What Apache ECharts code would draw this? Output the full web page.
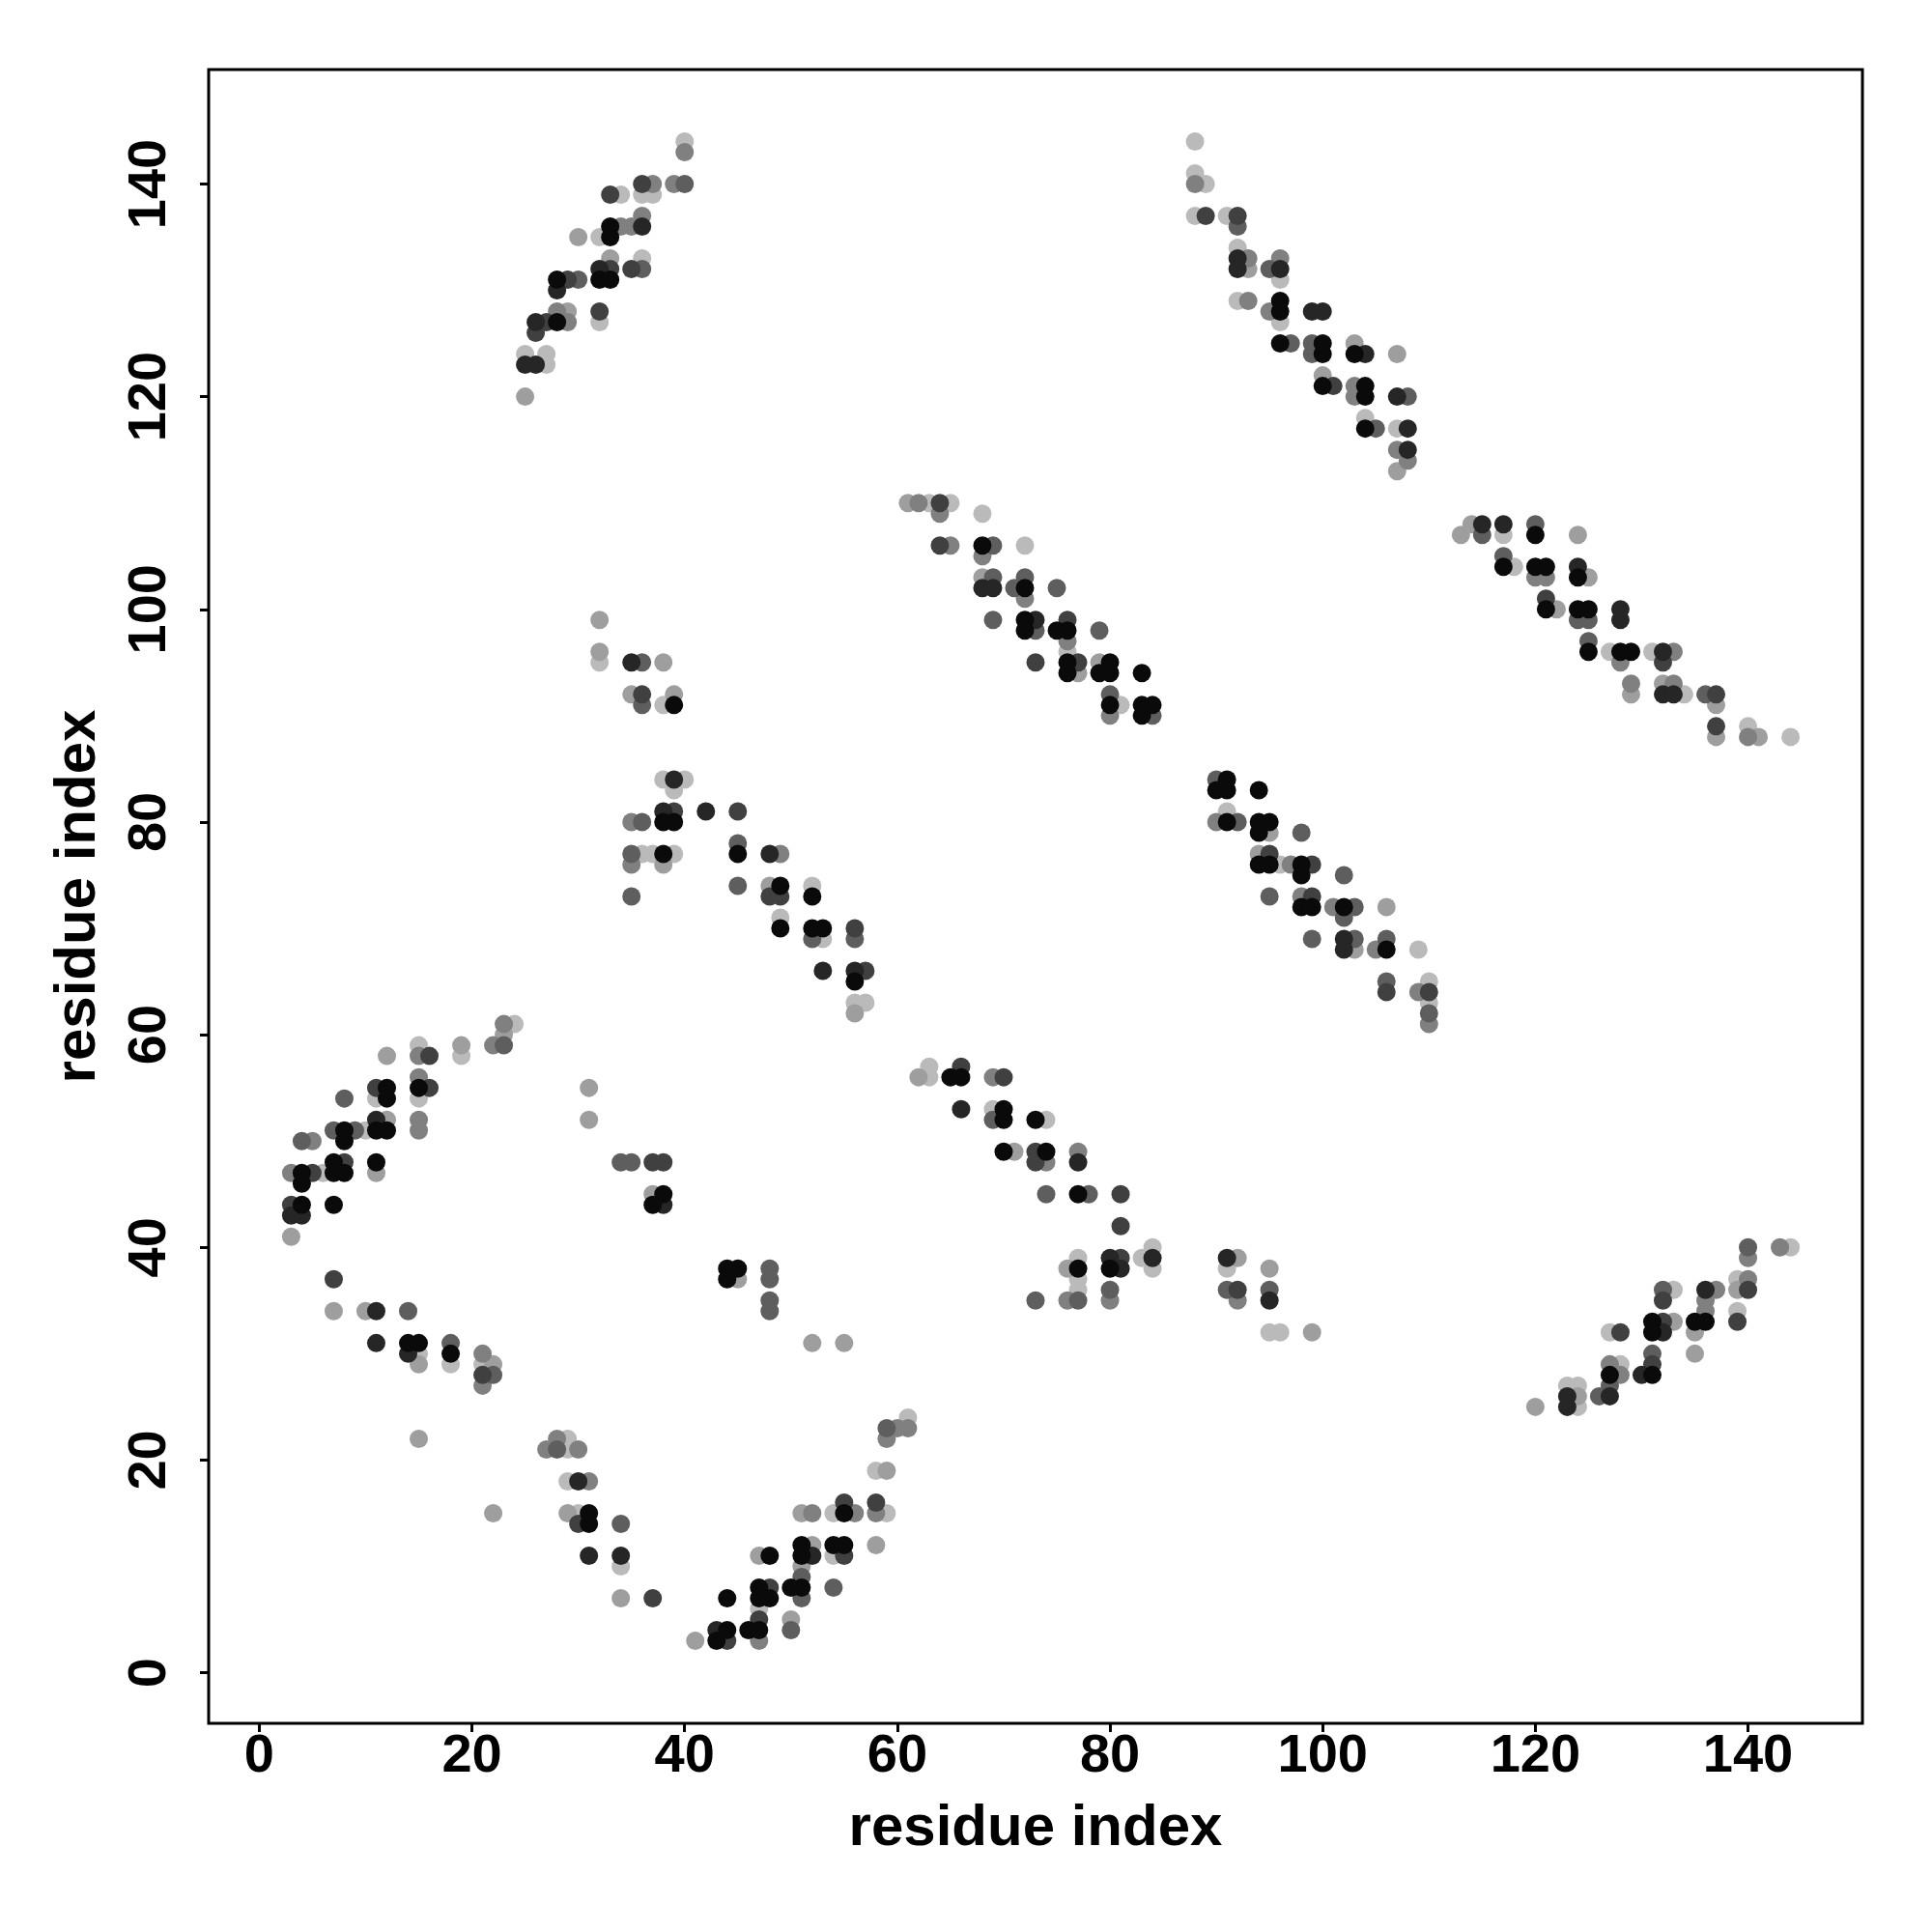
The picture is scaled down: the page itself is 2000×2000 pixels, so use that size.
<!DOCTYPE html>
<html>
<head>
<meta charset="utf-8">
<script src="https://cdn.jsdelivr.net/npm/echarts@6/dist/echarts.min.js"></script>
<style>html,body{margin:0;padding:0;background:#fff}#c{width:2000px;height:2000px}</style>
</head>
<body>
<div id="c"></div>
<script>
const xTicks = [0, 20, 40, 60, 80, 100, 120, 140];
const yTicks = [0, 20, 40, 60, 80, 100, 120, 140];
const axisTitle = 'residue index';

const shade0 = [[33,136],[33,135],[32,131],[33,131],[28,131],[28,127],[96,129],[96,128],[96,125],[100,125],[100,124],[100,121],[68,106],[72,102],[72,99],[72,98],[75,98],[76,98],[76,95],[76,94],[80,95],[79,94],[80,94],[83,94],[80,91],[83,91],[84,91],[83,90],[91,84],[90,83],[91,83],[94,83],[91,80],[94,80],[95,80],[94,79],[94,76],[95,76],[98,76],[98,75],[98,72],[99,72],[49,74],[52,73],[49,70],[52,70],[53,70],[56,65],[65,56],[66,56],[70,53],[70,52],[73,52],[70,49],[74,49],[77,45],[77,38],[80,38],[55,15],[51,12],[51,11],[51,8],[50,8],[54,12],[55,12],[48,11],[48,7],[4,44],[7,44],[14,31],[15,31],[18,30],[31,15],[31,14],[44,7],[44,4],[43,3],[46,4],[47,4],[47,8],[47,7],[38,45],[37,44],[44,38],[45,38],[44,37],[39,91],[38,80],[39,80],[38,77],[45,77],[15,55],[12,55],[12,54],[11,51],[12,51],[8,51],[8,50],[7,48],[7,47],[8,47],[11,48],[4,47],[4,46],[103,124],[104,121],[104,120],[104,117],[120,107],[117,104],[120,104],[121,104],[124,103],[121,100],[124,100],[125,100],[125,96],[128,96],[129,96],[102,72],[106,68],[135,33],[136,33],[131,33],[131,32],[131,28],[127,28]];
const shade1 = [[36,136],[32,132],[28,130],[26,127],[26,123],[25,123],[92,133],[92,132],[96,132],[99,128],[100,128],[68,102],[69,102],[73,99],[66,53],[77,48],[53,66],[56,66],[48,77],[80,39],[81,38],[84,39],[91,39],[95,35],[52,11],[3,43],[4,43],[11,34],[11,31],[14,30],[30,18],[31,11],[34,11],[43,4],[38,44],[35,95],[39,84],[38,81],[42,81],[11,52],[104,124],[107,120],[108,117],[108,115],[115,108],[117,108],[124,104],[128,100],[128,99],[132,96],[132,92],[133,92],[102,69],[102,68],[136,36],[132,32],[130,28],[127,26],[123,26],[123,25]];
const shade2 = [[36,140],[33,139],[35,132],[33,132],[29,131],[32,128],[27,127],[26,126],[89,137],[92,137],[101,121],[64,110],[64,106],[76,99],[77,95],[73,95],[95,77],[99,76],[99,73],[49,73],[48,73],[56,70],[57,66],[66,57],[70,56],[73,49],[73,48],[81,45],[81,42],[81,39],[92,36],[55,16],[58,16],[55,11],[48,8],[3,44],[7,37],[21,28],[30,14],[37,7],[44,3],[47,5],[36,92],[39,81],[45,81],[16,58],[16,55],[11,55],[8,48],[5,47],[37,48],[38,48],[121,101],[132,95],[137,92],[137,89],[106,64],[110,64],[140,36],[139,33],[132,35],[132,33],[128,32],[131,29]];
const shade3 = [[40,140],[36,132],[30,131],[92,136],[95,132],[97,125],[99,125],[99,124],[69,106],[69,103],[71,102],[72,103],[75,102],[69,99],[73,98],[79,98],[80,92],[84,90],[90,84],[92,80],[98,79],[95,73],[99,69],[52,69],[56,69],[69,52],[74,45],[78,45],[77,35],[73,35],[80,36],[91,36],[95,36],[59,23],[51,9],[51,7],[54,8],[50,4],[14,34],[18,31],[22,28],[28,21],[34,14],[48,38],[48,37],[48,35],[48,34],[36,95],[36,91],[36,80],[35,77],[35,73],[45,78],[45,74],[23,59],[8,54],[7,51],[9,51],[4,50],[34,48],[35,48],[115,107],[120,108],[117,105],[124,99],[125,99],[108,120],[105,117],[125,97],[136,92],[102,75],[103,72],[102,71],[103,69],[106,69],[106,65],[110,62],[140,40],[132,36],[131,30],[127,27],[126,26]];
const shade4 = [[40,143],[39,140],[37,140],[36,137],[35,136],[34,136],[28,128],[29,127],[88,140],[93,133],[96,133],[93,129],[95,128],[62,110],[64,109],[65,106],[68,105],[72,101],[76,97],[80,90],[90,80],[97,76],[98,73],[101,72],[49,77],[69,56],[74,48],[77,49],[76,35],[80,35],[92,35],[60,23],[61,23],[59,22],[56,15],[52,15],[58,15],[21,30],[21,27],[27,21],[28,22],[30,21],[31,18],[47,3],[35,80],[35,76],[23,61],[22,59],[15,58],[15,56],[15,52],[15,51],[5,50],[3,47],[103,121],[103,120],[107,115],[108,114],[120,103],[121,103],[128,95],[133,96],[129,93],[133,93],[140,88],[105,68],[109,64],[110,61],[140,39],[143,40],[140,37],[137,36],[136,35],[136,34],[127,29],[128,28]];
const shade5 = [[30,135],[33,133],[29,128],[25,120],[32,99],[93,132],[100,122],[61,110],[68,103],[77,94],[79,95],[95,79],[94,77],[48,74],[56,62],[62,56],[71,49],[76,38],[92,39],[95,38],[99,32],[52,31],[55,31],[59,19],[51,15],[58,12],[52,12],[51,10],[50,5],[3,41],[7,34],[10,34],[15,29],[22,29],[15,22],[22,15],[29,15],[34,7],[41,3],[47,11],[37,45],[45,37],[32,96],[38,95],[35,92],[39,92],[38,76],[23,60],[19,59],[12,58],[12,52],[11,47],[31,55],[31,52],[103,125],[107,124],[107,113],[113,107],[114,108],[124,107],[125,103],[122,100],[129,92],[132,93],[137,91],[137,88],[141,88],[106,72],[103,68],[139,36],[135,32],[135,30],[133,33],[124,26],[120,25]];
const shade6 = [[40,144],[36,139],[37,139],[34,139],[32,135],[36,133],[32,127],[25,124],[27,124],[27,123],[88,144],[88,141],[89,140],[88,137],[91,137],[92,134],[96,131],[92,129],[96,127],[63,110],[65,110],[68,109],[72,106],[76,96],[81,91],[91,81],[96,76],[52,74],[49,71],[53,69],[56,63],[57,63],[63,57],[63,56],[69,53],[74,52],[77,39],[77,37],[77,36],[83,39],[84,40],[84,38],[91,38],[95,32],[96,32],[61,24],[58,19],[54,15],[59,15],[54,11],[15,30],[18,29],[21,29],[29,22],[29,21],[29,18],[30,15],[34,10],[47,6],[32,95],[38,91],[38,84],[40,84],[39,83],[36,77],[37,77],[39,77],[24,61],[19,58],[15,59],[15,54],[11,54],[10,51],[6,47],[104,118],[107,117],[117,107],[118,104],[127,96],[131,96],[134,92],[140,89],[144,88],[109,68],[110,65],[110,63],[144,40],[139,37],[139,34],[133,36],[127,32],[128,29],[123,27],[124,27],[124,25]];

const shadeData = [shade6, shade5, shade4, shade3, shade2, shade1, shade0];
const shadeColors = ['#bababa', '#9e9e9e', '#808080', '#5e5e5e', '#404040', '#262626', '#0a0a0a'];

const FONT = 'Liberation Sans';
const chart = echarts.init(document.getElementById('c'));
const axisCommon = {
  type: 'value',
  min: -4.76,
  max: 150.76,
  splitLine: { show: false },
  axisLine: { show: false, onZero: false },
  nameLocation: 'middle',
  nameTextStyle: { fontSize: 60, fontWeight: 'bold', color: '#000', fontFamily: FONT }
};
chart.setOption({
  animation: false,
  backgroundColor: '#fff',
  grid: { left: 216, right: 72, top: 72, bottom: 216, show: true, borderColor: '#000', borderWidth: 3, containLabel: false },
  xAxis: Object.assign({}, axisCommon, {
    name: axisTitle,
    nameGap: 79,
    axisTick: { show: true, customValues: xTicks, length: 9, inside: false, lineStyle: { color: '#000', width: 3 } },
    axisLabel: { customValues: xTicks, fontSize: 56, fontWeight: 'bold', color: '#000', fontFamily: FONT, margin: 7 }
  }),
  yAxis: Object.assign({}, axisCommon, {
    name: axisTitle,
    nameGap: 105,
    nameRotate: 90,
    axisTick: { show: true, customValues: yTicks, length: 9, inside: false, lineStyle: { color: '#000', width: 3 } },
    axisLabel: { customValues: yTicks, rotate: 90, fontSize: 56, fontWeight: 'bold', color: '#000', fontFamily: FONT, margin: 32 }
  }),
  series: shadeData.map((d, i) => ({
    type: 'scatter',
    data: d,
    symbol: 'circle',
    symbolSize: 19,
    itemStyle: { color: shadeColors[i], opacity: 1 },
    emphasis: { disabled: true },
    z: 2 + i
  }))
});
</script>
</body>
</html>
